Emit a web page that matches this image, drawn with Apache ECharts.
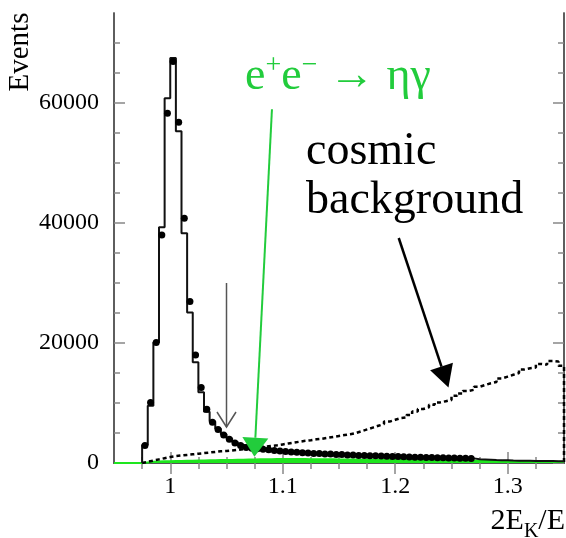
<!DOCTYPE html>
<html>
<head>
<meta charset="utf-8">
<script src="https://cdn.jsdelivr.net/npm/echarts@6.0.0/dist/echarts.min.js"></script>
<style>
html, body { margin: 0; padding: 0; background: #fff; }
#chart { width: 566px; height: 538px; }
</style>
</head>
<body>
<div id="chart"></div>
<script>
// histogram bins: 0.95 .. 1.35, width 0.005 (80 bins)
const binStart = 0.95;
const binWidth = 0.005;

const xMajorTicks = [1, 1.1, 1.2, 1.3];
const xMinorTicks = [0.975, 1.025, 1.05, 1.075, 1.125, 1.15, 1.175, 1.225, 1.25, 1.275, 1.325];
const yMajorTicks = [0, 20000, 40000, 60000];
const yMinorTicks = [5000, 10000, 15000, 25000, 30000, 35000, 45000, 50000, 55000, 65000, 70000];

// simulation (solid histogram)
const mcHist = [
  0, 0, 0, 0, 0, 3000, 9550, 20100, 39300, 60800,
  67500, 55300, 38300, 25100, 16800, 11800, 8550, 6900, 5700, 4800,
  4100, 3500, 3050, 2750, 2550, 2420, 2300, 2180, 2080, 1990,
  1910, 1840, 1770, 1710, 1660, 1610, 1560, 1510, 1470, 1430,
  1390, 1350, 1310, 1280, 1250, 1220, 1190, 1160, 1130, 1100,
  1070, 1040, 1010, 980, 960, 940, 910, 890, 870, 850,
  830, 810, 790, 770, 620, 580, 540, 500, 470, 440,
  410, 390, 370, 360, 350, 340, 330, 320, 310, 300
];

// experimental points
const dataPoints = [
  null, null, null, null, null, 2900, 10100, 20100, 38000, 58300,
  66900, 56800, 40800, 26900, 18000, 12600, 8950, 6800, 5600, 4650,
  3950, 3350, 2900, 2600, 2450, 2380, 2280, 2200, 2070, 1980,
  1920, 1830, 1780, 1700, 1670, 1600, 1570, 1500, 1480, 1420,
  1400, 1340, 1320, 1270, 1260, 1210, 1200, 1150, 1140, 1090,
  1080, 1030, 1020, 970, 970, 930, 920, 880, 880, 840,
  840, 800, 800, 760, null, null, null, null, null, null,
  null, null, null, null, null, null, null, null, null, null
];

// cosmic background (dashed)
const cosmicHist = [
  0, 0, 0, 0, 0, 200, 400, 600, 800, 1000,
  1150, 1250, 1350, 1450, 1550, 1650, 1750, 1850, 1950, 2000,
  2100, 2200, 2300, 2450, 2550, 2650, 2750, 2850, 2950, 3100,
  3250, 3400, 3550, 3700, 3800, 3950, 4050, 4200, 4350, 4500,
  4650, 4800, 5000, 5300, 5600, 5900, 6200, 6500, 6900, 7200,
  7500, 7600, 8000, 8600, 9000, 9300, 9700, 10100, 10300, 10500,
  11200, 11600, 12000, 12200, 12700, 13000, 13300, 13500, 14100, 14400,
  14700, 15000, 15600, 15800, 15900, 16500, 16400, 17000, 16900, 16200
];

// e+e- -> eta gamma (green)
const signalHist = [
  0, 0, 0, 0, 0, 100, 200, 250, 300, 300,
  320, 340, 360, 380, 400, 420, 440, 460, 480, 500,
  520, 540, 560, 580, 600, 620, 630, 640, 650, 650,
  660, 660, 650, 650, 640, 640, 630, 620, 610, 600,
  590, 580, 570, 560, 550, 540, 530, 520, 510, 500,
  490, 480, 470, 460, 450, 440, 430, 420, 410, 400,
  390, 380, 370, 360, 350, 340, 330, 320, 310, 300,
  290, 280, 270, 260, 250, 240, 230, 220, 210, 200
];

function stepData(values, from, closeEnd) {
  const pts = [[binStart + from * binWidth, 0]];
  for (let i = from; i < values.length; i++) {
    pts.push([binStart + i * binWidth, values[i]]);
  }
  const end = binStart + values.length * binWidth;
  pts.push([end, values[values.length - 1]]);
  if (closeEnd) pts.push([end, 0]);
  return pts;
}

const firstBin = mcHist.findIndex(v => v > 0);
const points = [];
dataPoints.forEach((v, i) => {
  if (v !== null) points.push([binStart + (i + 0.5) * binWidth, v]);
});

const serif = '"Liberation Serif", "Times New Roman", serif';
const frameColor = '#555';
const tickColor = '#888';

function xAx(position, ticks, len, labels) {
  return {
    type: 'value', position: position, min: 0.95, max: 1.35,
    axisLine: { show: true, lineStyle: { color: frameColor, width: 1.5 } },
    axisTick: { show: true, inside: true, length: len, customValues: ticks,
      lineStyle: { color: tickColor, width: 1.5 } },
    axisLabel: labels ? {
      show: true, customValues: ticks, margin: 12,
      fontFamily: serif, fontSize: 24, color: '#000',
      formatter: v => String(Math.round(v * 10) / 10)
    } : { show: false },
    splitLine: { show: false }
  };
}

function yAx(position, ticks, len, labels) {
  return {
    type: 'value', position: position, min: 0, max: 75000,
    axisLine: { show: true, lineStyle: { color: frameColor, width: 1.5 } },
    axisTick: { show: true, inside: true, length: len, customValues: ticks,
      lineStyle: { color: tickColor, width: 1.5 } },
    axisLabel: labels ? {
      show: true, customValues: ticks, margin: 15,
      fontFamily: serif, fontSize: 24, color: '#000',
      formatter: v => String(Math.round(v))
    } : { show: false },
    splitLine: { show: false }
  };
}

const myChart = echarts.init(document.getElementById('chart'));

const option = {
  animation: false,
  grid: { left: 114, top: 13, right: 2, bottom: 75, containLabel: false, outerBoundsMode: 'none' },
  xAxis: [
    xAx('bottom', xMajorTicks, 11, true),
    xAx('bottom', xMinorTicks, 6, false),
    xAx('top', xMajorTicks, 11, false),
    xAx('top', xMinorTicks, 6, false)
  ],
  yAxis: [
    yAx('left', yMajorTicks, 11, true),
    yAx('left', yMinorTicks, 6, false),
    yAx('right', yMajorTicks, 11, false),
    yAx('right', yMinorTicks, 6, false)
  ],
  series: [
    {
      name: 'signal',
      type: 'line',
      step: 'end',
      symbol: 'none',
      data: stepData(signalHist, 0, false),
      lineStyle: { color: '#1ee61e', width: 2 },
      areaStyle: { color: '#1ee61e', opacity: 1 },
      z: 2
    },
    {
      name: 'cosmic',
      type: 'line',
      step: 'end',
      symbol: 'none',
      data: stepData(cosmicHist, firstBin, true),
      lineStyle: { color: '#000', width: 2.5, type: [4, 3] },
      z: 3
    },
    {
      name: 'simulation',
      type: 'line',
      step: 'end',
      symbol: 'none',
      data: stepData(mcHist, firstBin, false),
      lineStyle: { color: '#111', width: 2 },
      z: 4
    },
    {
      name: 'data',
      type: 'scatter',
      symbol: 'circle',
      symbolSize: 7,
      data: points,
      itemStyle: { color: '#000', opacity: 1 },
      z: 5
    }
  ]
};

myChart.setOption(option);

// annotations, anchored in data coordinates
function px(x, y) {
  return myChart.convertToPixel({ xAxisIndex: 0, yAxisIndex: 0 }, [x, y]);
}

function arrowHead(tip, from, len, half) {
  const dx = from[0] - tip[0], dy = from[1] - tip[1];
  const d = Math.sqrt(dx * dx + dy * dy);
  const ux = dx / d, uy = dy / d;
  const bx = tip[0] + ux * len, by = tip[1] + uy * len;
  return {
    base: [bx, by],
    pts: [tip, [bx - uy * half, by + ux * half], [bx + uy * half, by - ux * half]]
  };
}

const green = '#22cc3c';

const cutTop = px(1.05, 30000), cutTip = px(1.05, 6000);
const gStart = px(1.0904, 58950), gTip = px(1.0748, 1050);
const gHead = arrowHead(gTip, gStart, 19, 13);
const bStart = px(1.2031, 37500), bTip = px(1.2473, 12600);
const bHead = arrowHead(bTip, bStart, 22, 12);

myChart.setOption({
  graphic: [
    { type: 'line', shape: { x1: cutTop[0], y1: cutTop[1], x2: cutTip[0], y2: cutTip[1] },
      style: { stroke: '#555', lineWidth: 1.5 }, z: 10 },
    { type: 'polyline', shape: { points: [[cutTip[0] - 9.5, cutTip[1] - 15], cutTip, [cutTip[0] + 9.5, cutTip[1] - 15]] },
      style: { stroke: '#555', lineWidth: 1.5, fill: null }, z: 10 },
    { type: 'line', shape: { x1: gStart[0], y1: gStart[1], x2: gHead.base[0], y2: gHead.base[1] },
      style: { stroke: green, lineWidth: 2 }, z: 10 },
    { type: 'polygon', shape: { points: gHead.pts }, style: { fill: green }, z: 10 },
    { type: 'line', shape: { x1: bStart[0], y1: bStart[1], x2: bHead.base[0], y2: bHead.base[1] },
      style: { stroke: '#000', lineWidth: 2.5 }, z: 10 },
    { type: 'polygon', shape: { points: bHead.pts }, style: { fill: '#000' }, z: 10 },
    {
      type: 'text', x: 245, y: 77, z: 10,
      style: {
        text: '{e|e}{s|+}{e|e}{s|−}{e| → ηγ}',
        verticalAlign: 'middle', textAlign: 'left',
        rich: {
          e: { fontFamily: serif, fontSize: 46, lineHeight: 50, fill: green },
          s: { fontFamily: serif, fontSize: 28, lineHeight: 29, verticalAlign: 'top', fill: green }
        }
      }
    },
    { type: 'text', x: 306, y: 152, z: 10,
      style: { text: 'cosmic', fontFamily: serif, fontSize: 46, fill: '#000', verticalAlign: 'middle' } },
    { type: 'text', x: 306, y: 201, z: 10,
      style: { text: 'background', fontFamily: serif, fontSize: 46, fill: '#000', verticalAlign: 'middle' } },
    { type: 'text', x: 20, y: 52, rotation: Math.PI / 2, z: 10,
      style: { text: 'Events', fontFamily: serif, fontSize: 29, fill: '#000',
        textAlign: 'center', verticalAlign: 'middle' } },
    {
      type: 'text', x: 565, y: 521, z: 10,
      style: {
        text: '{a|2E}{b|K}{a|/E}',
        textAlign: 'right', verticalAlign: 'middle',
        rich: {
          a: { fontFamily: serif, fontSize: 30, lineHeight: 42, fill: '#000' },
          b: { fontFamily: serif, fontSize: 20, lineHeight: 20, verticalAlign: 'bottom', fill: '#000' }
        }
      }
    }
  ]
});
</script>
</body>
</html>
